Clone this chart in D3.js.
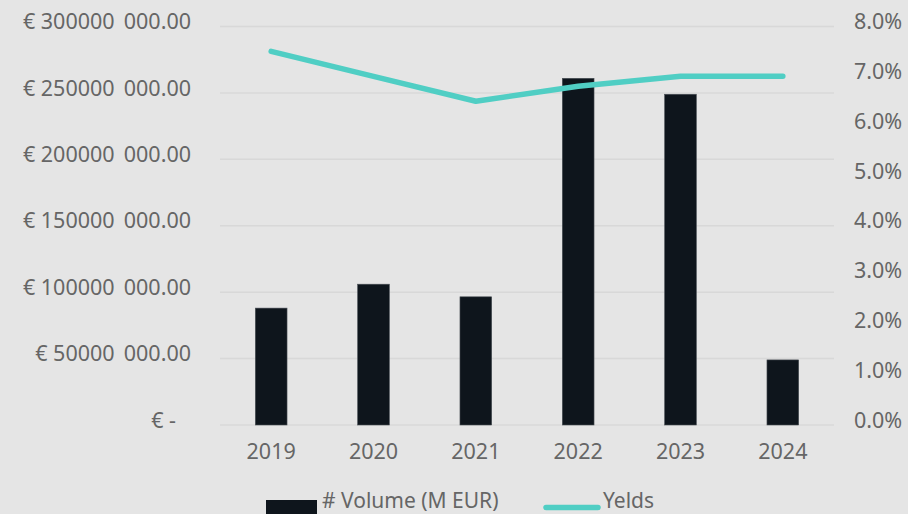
<!DOCTYPE html>
<html>
<head>
<meta charset="utf-8">
<script src="https://cdn.jsdelivr.net/npm/d3@7"></script>
<style>
  html, body { margin: 0; padding: 0; background: #e5e5e5; }
  svg { display: block; }
  text { font-family: "Noto Sans", sans-serif; fill: #666666; }
</style>
</head>
<body>
<svg id="chart" width="908" height="514"></svg>
<script>
const years = ["2019", "2020", "2021", "2022", "2023", "2024"];
const volume = [88e6, 106e6, 96.5e6, 261e6, 249e6, 49e6];
const yields = [0.075, 0.070, 0.065, 0.068, 0.070, 0.070];
const leftTicks = [0, 50e6, 100e6, 150e6, 200e6, 250e6, 300e6];
const rightTicks = [0, 0.01, 0.02, 0.03, 0.04, 0.05, 0.06, 0.07, 0.08];
const seriesNames = ["# Volume (M EUR)", "Yelds"];

const W = 908, H = 514;
const plot = { left: 220, right: 834, top: 26.5, bottom: 425 };
const svg = d3.select("#chart");
svg.append("rect").attr("width", W).attr("height", H).attr("fill", "#e5e5e5");

const x = d3.scaleBand().domain(years).range([plot.left, plot.right])
  .paddingInner(0.69).paddingOuter(0.345);
const yL = d3.scaleLinear().domain([0, 300e6]).range([plot.bottom, plot.top]);
const yR = d3.scaleLinear().domain([0, 0.08]).range([plot.bottom, plot.top]);

// gridlines
svg.append("g").selectAll("line").data(leftTicks).join("line")
  .attr("x1", plot.left).attr("x2", plot.right)
  .attr("y1", d => yL(d)).attr("y2", d => yL(d))
  .attr("stroke", "#d8d8d8").attr("stroke-width", 1.5);

// left axis
const fmtLeft = v => v === 0 ? "€ -" : "€ " + Math.round(v / 1000) + "\u00a0\u2009000.00";
const gL = svg.append("g").attr("transform", `translate(191,0)`)
  .call(d3.axisLeft(yL).tickValues(leftTicks).tickFormat(fmtLeft).tickSize(0).tickPadding(0));
gL.select(".domain").remove();
gL.selectAll("text").attr("font-size", 21.5).attr("dy", "0.1em")
  .attr("font-family", "Noto Sans, sans-serif").attr("fill", "#666666")
  .attr("dx", d => d === 0 ? -15 : 0);

// right axis
const gR = svg.append("g").attr("transform", `translate(854,0)`)
  .call(d3.axisRight(yR).tickValues(rightTicks).tickFormat(d3.format(".1%")).tickSize(0).tickPadding(0));
gR.select(".domain").remove();
gR.selectAll("text").attr("font-size", 21.5).attr("dy", "0.1em")
  .attr("font-family", "Noto Sans, sans-serif").attr("fill", "#666666");

// x axis
const gX = svg.append("g").attr("transform", `translate(0,${plot.bottom})`)
  .call(d3.axisBottom(x).tickSize(0).tickPadding(0));
gX.select(".domain").remove();
gX.selectAll("text").attr("font-size", 21.5).attr("y", 34).attr("dy", 0)
  .attr("font-family", "Noto Sans, sans-serif").attr("fill", "#666666");

// bars
svg.append("g").selectAll("rect").data(years).join("rect")
  .attr("x", d => x(d)).attr("width", x.bandwidth())
  .attr("y", (d, i) => yL(volume[i]))
  .attr("height", (d, i) => yL(0) - yL(volume[i]))
  .attr("fill", "#0e151c").attr("stroke", "#4a5056").attr("stroke-width", 0.6);

// line
const line = d3.line().x((d, i) => x(years[i]) + x.bandwidth() / 2).y(d => yR(d));
svg.append("path").datum(yields).attr("d", line)
  .attr("fill", "none").attr("stroke", "#50cec4").attr("stroke-width", 5.5)
  .attr("stroke-linecap", "round").attr("stroke-linejoin", "round");

// legend
const lg = svg.append("g");
lg.append("rect").attr("x", 266).attr("y", 500).attr("width", 51).attr("height", 20).attr("fill", "#0e151c");
lg.append("text").attr("x", 322).attr("y", 508).attr("font-size", 21).text(seriesNames[0]);
lg.append("line").attr("x1", 546).attr("x2", 598).attr("y1", 507.5).attr("y2", 507.5)
  .attr("stroke", "#50cec4").attr("stroke-width", 5.5).attr("stroke-linecap", "round");
lg.append("text").attr("x", 603).attr("y", 508).attr("font-size", 21).text(seriesNames[1]);
</script>
</body>
</html>
